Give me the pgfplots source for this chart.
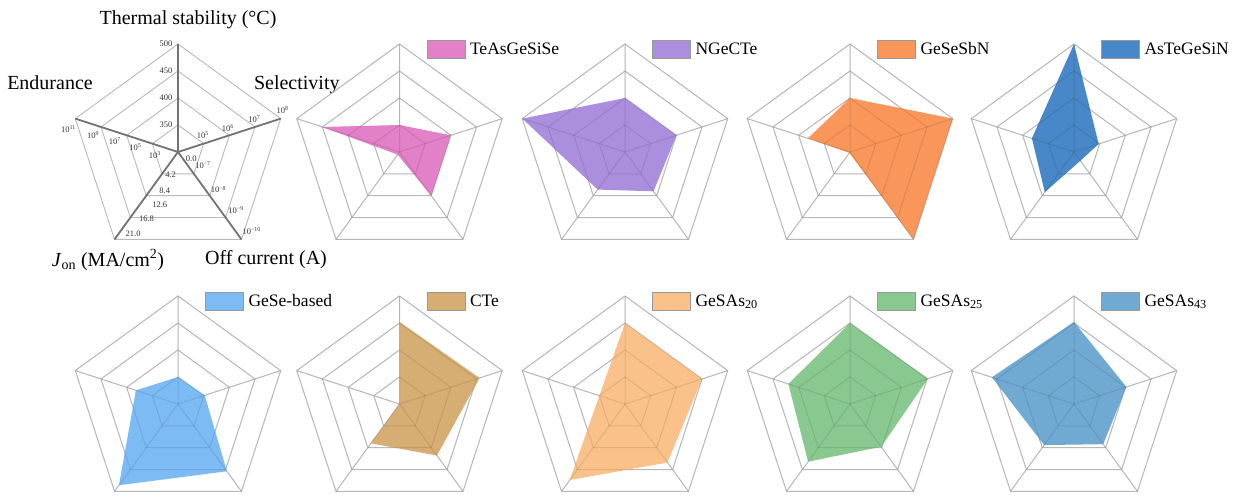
\documentclass[border=0pt]{standalone}
\usepackage{pgfplots}
\pgfplotsset{compat=1.18}
\usepackage{fontspec}
\setmainfont{Liberation Serif}

\definecolor{pinkc}{RGB}{226,128,200}
\definecolor{purplec}{RGB}{172,142,222}
\definecolor{orangec}{RGB}{250,150,90}
\definecolor{bluec}{RGB}{72,136,200}
\definecolor{lightbluec}{RGB}{125,187,245}
\definecolor{tanc}{RGB}{214,174,116}
\definecolor{lorangec}{RGB}{250,194,138}
\definecolor{greenc}{RGB}{137,200,142}
\definecolor{steelc}{RGB}{112,170,210}

\newcommand{\ringplot}[2]{\addplot[#1, data cs=polar, forget plot] coordinates {(90,#2) (18,#2) (-54,#2) (-126,#2) (162,#2) (90,#2)};}
\newcommand{\radargrid}[2]{%
 \ringplot{#1}{0.25}\ringplot{#1}{0.5}\ringplot{#1}{0.75}\ringplot{#1}{1}%
 \addplot[#2, data cs=polar, forget plot] coordinates {(90,1) (0,0) (18,1)};%
 \addplot[#2, data cs=polar, forget plot] coordinates {(-54,1) (0,0) (-126,1)};%
 \addplot[#2, data cs=polar, forget plot] coordinates {(162,1) (0,0)};}

\pgfplotsset{
 legend image code/.code={\draw[#1,draw=black!40,line width=0.5pt] (0pt,-9pt) rectangle (38pt,9pt);},
 radar/.style={hide axis, scale only axis, width=216pt, height=199.8pt,
   xmin=-1, xmax=1, ymin=-0.85, ymax=1, clip=false, anchor=south west,
   legend style={draw=none, fill=none, inner sep=0pt, outer sep=0pt, column sep=3pt,
     at={(axis description cs:0.625,0.974)}, anchor=west,
     font=\fontsize{17.5}{17.5}\selectfont}},
 gridA/.style={black!20, line width=1pt},
 gridB/.style={black, opacity=0.1, line width=1pt},
}
\newcommand{\tl}{\fontsize{8.5}{8.5}\selectfont\color{black!80}}
\newcommand{\al}{\fontsize{20}{20}\selectfont}

\begin{document}
\begin{tikzpicture}
\path[use as bounding box] (0pt,0pt) rectangle (1237pt,495pt);

% ---------- reference axes chart ----------
\begin{axis}[radar, at={(70pt,251.2pt)}]
\radargrid{gray!55, line width=0.9pt}{black!55, line width=1.8pt}
\node[font=\al] at (axis cs:0.093,1.222) {Thermal stability (°C)};
\node[font=\al] at (axis cs:-1.185,0.639) {Endurance};
\node[font=\al] at (axis cs:1.10,0.62) {Selectivity};
\node[font=\al] at (axis cs:-0.648,-1.0) {\textit{J}\textsubscript{on} (MA/cm\textsuperscript{2})};
\node[font=\al] at (axis cs:0.815,-1.0) {Off current (A)};
% thermal
\node[anchor=east,font=\tl] at (axis cs:-0.02,0.25) {350};
\node[anchor=east,font=\tl] at (axis cs:-0.02,0.5) {400};
\node[anchor=east,font=\tl] at (axis cs:-0.02,0.75) {450};
\node[anchor=east,font=\tl] at (axis cs:-0.02,1.0) {500};
% selectivity
\node[font=\tl] at (axis cs:0.231,0.154) {10\textsuperscript{5}};
\node[font=\tl] at (axis cs:0.462,0.225) {10\textsuperscript{6}};
\node[font=\tl] at (axis cs:0.708,0.308) {10\textsuperscript{7}};
\node[font=\tl] at (axis cs:0.969,0.391) {10\textsuperscript{8}};
% endurance
\node[font=\tl] at (axis cs:-1.015,0.215) {10\textsuperscript{11}};
\node[font=\tl] at (axis cs:-0.785,0.154) {10\textsuperscript{9}};
\node[font=\tl] at (axis cs:-0.585,0.10) {10\textsuperscript{7}};
\node[font=\tl] at (axis cs:-0.394,0.046) {10\textsuperscript{5}};
\node[font=\tl] at (axis cs:-0.215,-0.031) {10\textsuperscript{3}};
% off current
\node[font=\tl] at (axis cs:0.231,-0.123) {10\textsuperscript{−7}};
\node[font=\tl] at (axis cs:0.375,-0.348) {10\textsuperscript{−8}};
\node[font=\tl] at (axis cs:0.538,-0.538) {10\textsuperscript{−9}};
\node[font=\tl] at (axis cs:0.683,-0.732) {10\textsuperscript{−10}};
% J_on
\node[font=\tl] at (axis cs:0.123,-0.062) {0.0};
\node[font=\tl] at (axis cs:-0.068,-0.209) {4.2};
\node[font=\tl] at (axis cs:-0.123,-0.36) {8.4};
\node[font=\tl] at (axis cs:-0.169,-0.492) {12.6};
\node[font=\tl] at (axis cs:-0.292,-0.615) {16.8};
\node[font=\tl] at (axis cs:-0.415,-0.76) {21.0};
\end{axis}

% ---------- TeAsGeSiSe ----------
\begin{axis}[radar, at={(291.5pt,251.2pt)}]
\radargrid{gridA}{gridA}
\addplot[fill=pinkc, draw=none, data cs=polar] coordinates {(90,0.25) (18,0.5) (-54,0.5) (-126,0.03) (162,0.75) (90,0.25)};
\addlegendentry{TeAsGeSiSe}
\radargrid{gridB}{gridB}
\end{axis}

% ---------- NGeCTe ----------
\begin{axis}[radar, at={(517pt,251.2pt)}]
\radargrid{gridA}{gridA}
\addplot[fill=purplec, draw=none, data cs=polar] coordinates {(90,0.5) (18,0.5) (-54,0.45) (-126,0.43) (162,1.0) (90,0.5)};
\addlegendentry{NGeCTe}
\radargrid{gridB}{gridB}
\end{axis}

% ---------- GeSeSbN ----------
\begin{axis}[radar, at={(742pt,251.2pt)}]
\radargrid{gridA}{gridA}
\addplot[fill=orangec, draw=none, data cs=polar] coordinates {(90,0.5) (18,1.0) (-54,1.0) (-126,0.01) (162,0.41) (90,0.5)};
\addlegendentry{GeSeSbN}
\radargrid{gridB}{gridB}
\end{axis}

% ---------- AsTeGeSiN ----------
\begin{axis}[radar, at={(966pt,251.2pt)}]
\radargrid{gridA}{gridA}
\addplot[fill=bluec, draw=none, data cs=polar] coordinates {(90,1.0) (18,0.24) (-54,0.1) (-126,0.46) (162,0.41) (90,1.0)};
\addlegendentry{AsTeGeSiN}
\radargrid{gridB}{gridB}
\end{axis}

% ---------- GeSe-based ----------
\begin{axis}[radar, at={(70pt,-0.8pt)}]
\radargrid{gridA}{gridA}
\addplot[fill=lightbluec, draw=none, data cs=polar] coordinates {(90,0.25) (18,0.26) (-54,0.77) (-126,0.93) (162,0.41) (90,0.25)};
\addlegendentry{GeSe-based}
\radargrid{gridB}{gridB}
\end{axis}

% ---------- CTe ----------
\begin{axis}[radar, at={(291.5pt,-0.8pt)}]
\radargrid{gridA}{gridA}
\addplot[fill=tanc, draw=none, data cs=polar] coordinates {(90,0.76) (18,0.78) (-54,0.59) (-126,0.45) (162,0.0) (90,0.76)};
\addlegendentry{CTe}
\radargrid{gridB}{gridB}
\end{axis}

% ---------- GeSAs20 ----------
\begin{axis}[radar, at={(517pt,-0.8pt)}]
\radargrid{gridA}{gridA}
\addplot[fill=lorangec, draw=none, data cs=polar] coordinates {(90,0.75) (18,0.75) (-54,0.67) (-126,0.87) (162,0.25) (90,0.75)};
\addlegendentry{GeSAs\textsubscript{20}}
\radargrid{gridB}{gridB}
\end{axis}

% ---------- GeSAs25 ----------
\begin{axis}[radar, at={(742pt,-0.8pt)}]
\radargrid{gridA}{gridA}
\addplot[fill=greenc, draw=none, data cs=polar] coordinates {(90,0.75) (18,0.76) (-54,0.49) (-126,0.66) (162,0.6) (90,0.75)};
\addlegendentry{GeSAs\textsubscript{25}}
\radargrid{gridB}{gridB}
\end{axis}

% ---------- GeSAs43 ----------
\begin{axis}[radar, at={(966pt,-0.8pt)}]
\radargrid{gridA}{gridA}
\addplot[fill=steelc, draw=none, data cs=polar] coordinates {(90,0.76) (18,0.51) (-54,0.46) (-126,0.47) (162,0.8) (90,0.76)};
\addlegendentry{GeSAs\textsubscript{43}}
\radargrid{gridB}{gridB}
\end{axis}
\end{tikzpicture}
\end{document}
